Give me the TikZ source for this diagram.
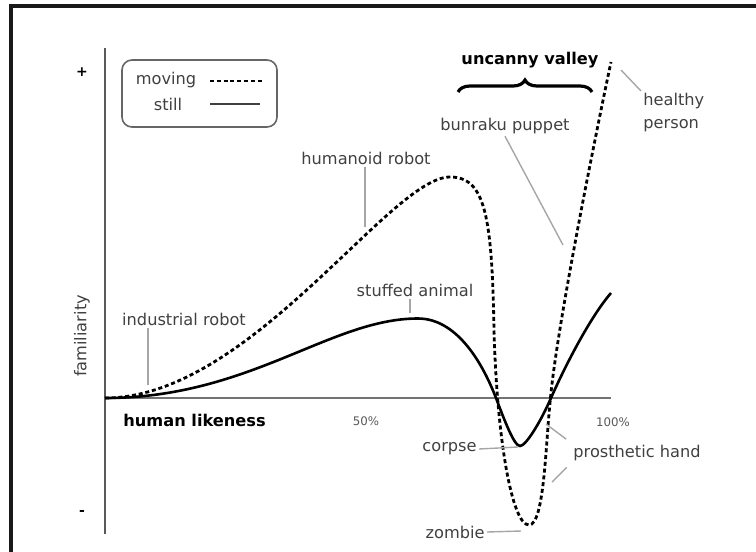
\documentclass[tikz,border=0pt]{standalone}
\usepackage{fontspec}
\setmainfont{DejaVu Sans}
\usetikzlibrary{decorations.pathreplacing}

\begin{document}
\begin{tikzpicture}[x = 0.5pt, y = -0.5pt,
  label/.style = {text = black!75, font = \fontsize{8.1}{9.5}\selectfont, inner sep = 1pt},
  title/.style = {text = black, font = \fontsize{8.1}{9.5}\selectfont\bfseries, inner sep = 1pt},
  percent/.style = {text = black!65, font = \fontsize{5.9}{7}\selectfont, inner sep = 1pt},
  pointer/.style = {draw = black!35, line width = 0.7pt},
  moving/.style = {line width = 1.4pt, dash pattern = on 2pt off 1.4pt},
  still/.style = {line width = 1.3pt}]
\useasboundingbox (0, 0) rectangle (756, 552);
\draw[line width = 2pt, black!90] (11, 560) -- (11, 5.5) -- (760, 5.5);

\draw[black!65, line width = 1.3pt] (105, 48) -- (105, 534);
\draw[black!55, line width = 1pt] (105, 398) -- (611, 398);
\node (plus) at (82, 72) {\fontsize{7}{8}\selectfont\bfseries +};
\node (minus) at (82, 513) {\fontsize{7}{8}\selectfont\bfseries -};
\node[label, rotate = 90] (familiarity) at (82, 336) {familiarity};
\node[title, anchor = west] (likeness) at (121, 420) {human likeness};
\node[percent] (half) at (366, 421) {50\%};
\node[percent] (full) at (613, 422) {100\%};

\draw[black!60, line width = 0.8pt, rounded corners = 5pt] (122, 60) rectangle (277, 127);
\node[label] (movingkey) at (166, 80) {moving};
\node[label] (stillkey) at (168, 104) {still};
\draw[moving, line width = 1.2pt] (210, 81) -- (262, 81);
\draw[black!75, line width = 0.6pt] (210, 104) -- (260, 104);

\draw[still] (105, 398) .. controls (250, 398) and (330, 318.5) .. (418, 318.5)
  .. controls (455, 318.5) and (481, 359) .. (496, 398)
  .. controls (504, 419) and (514, 446) .. (520, 446)
  .. controls (526, 446) and (541, 421) .. (551, 398)
  .. controls (566, 364) and (591, 316) .. (611, 293);
\draw[moving] (105, 398) .. controls (250, 398) and (390, 177) .. (450, 177)
  .. controls (485, 177) and (492, 215) .. (494, 330)
  .. controls (497, 440) and (512, 525) .. (529, 525)
  .. controls (544, 525) and (545.5, 448) .. (550, 403)
  .. controls (556, 330) and (597, 128) .. (611, 62);

\node[label] (industrial) at (184, 319) {industrial robot};
\coordinate (industrialpt) at (148, 385);
\draw[pointer] (industrial.south -| industrialpt) -- (industrialpt);

\node[label] (humanoid) at (366, 158) {humanoid robot};
\coordinate (humanoidpt) at (365, 227);
\draw[pointer] (humanoid.south -| humanoidpt) -- (humanoidpt);

\node[label] (stuffed) at (415, 290) {stuffed animal};
\coordinate (stuffedpt) at (410, 313);
\draw[pointer] (stuffed.south -| stuffedpt) -- (stuffedpt);

\node[title] (valley) at (530, 60) {uncanny valley};
\draw[decorate, decoration = {brace, amplitude = 6pt}, line width = 1.6pt] (458, 92) -- (592, 92);

\node[label] (bunraku) at (505, 126) {bunraku puppet};
\coordinate (bunrakupt) at (563, 245);
\draw[pointer] (bunraku.south) -- (bunrakupt);

\node[label, align = left, anchor = north west] (healthy) at (641, 91) {healthy\\[2pt]person};
\coordinate (healthypt) at (621, 70);
\draw[pointer] (healthypt) -- (healthy.north west);

\node[label, anchor = east] (corpse) at (479, 449) {corpse};
\coordinate (corpsept) at (518, 447);
\draw[pointer] (corpse.east) -- (corpsept);

\node[label, anchor = east] (zombie) at (487, 532) {zombie};
\coordinate (zombiept) at (521, 531);
\draw[pointer] (zombie.east) -- (zombiept);

\node[label, anchor = west] (prosthetic) at (571, 453) {prosthetic hand};
\coordinate (handstill) at (546, 424);
\coordinate (handmoving) at (552, 482);
\draw[pointer, shorten < = 3pt] (prosthetic.north west) -- (handstill);
\draw[pointer, shorten < = 3pt] (prosthetic.south west) -- (handmoving);
\end{tikzpicture}
\end{document}
